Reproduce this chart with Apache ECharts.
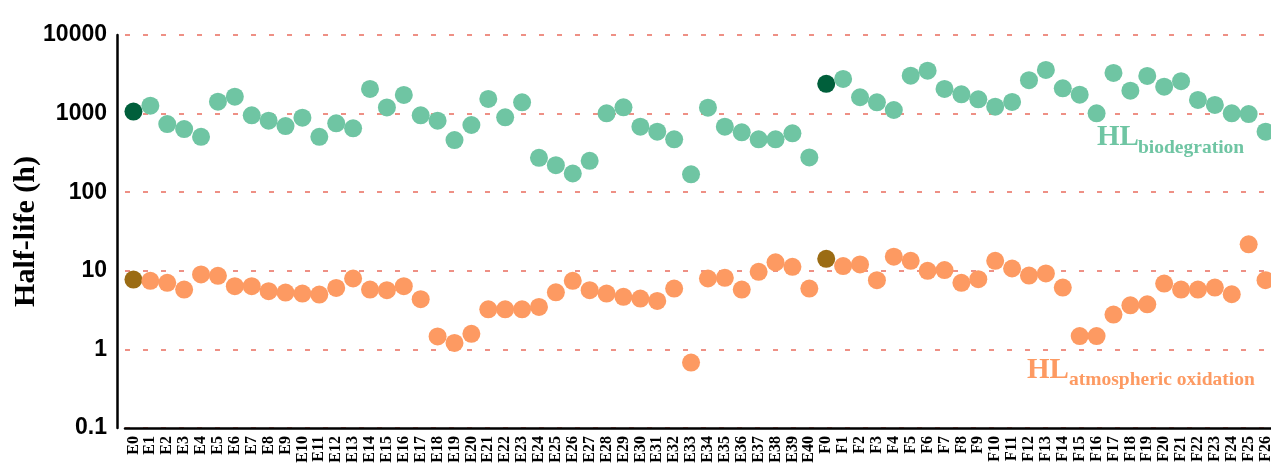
<!DOCTYPE html>
<html>
<head>
<meta charset="utf-8">
<script src="https://cdn.jsdelivr.net/npm/echarts@6/dist/echarts.min.js"></script>
<style>
  html, body { margin: 0; padding: 0; background: #fff; }
  #main { width: 1271px; height: 470px; }
</style>
</head>
<body>
<div id="main"></div>
<script>
// categories E0..E40, F0..F26
var CATS_E = ['E0','E1','E2','E3','E4','E5','E6','E7','E8','E9','E10','E11','E12','E13','E14','E15','E16','E17','E18','E19','E20',
  'E21','E22','E23','E24','E25','E26','E27','E28','E29','E30','E31','E32','E33','E34','E35','E36','E37','E38','E39','E40'];
var CATS_F = ['F0','F1','F2','F3','F4','F5','F6','F7','F8','F9','F10','F11','F12','F13','F14','F15','F16','F17','F18','F19','F20',
  'F21','F22','F23','F24','F25','F26'];
var CATEGORIES = CATS_E.concat(CATS_F);

// parent compounds (drawn darker)
var PARENTS = ['E0', 'F0'];

// half-life biodegradation (h)
var HL_BIO = [1060,1260,736,635,507,1420,1640,950,812,695,887,507,752,650,2060,1200,1730,950,812,460,716,
  1535,897,1393,274,221,173,251,1009,1203,681,588,470,169,1190,681,578,470,470,561,277,
  2390,2760,1614,1393,1111,3040,3520,2060,1762,1520,1224,1406,2660,3595,2100,1743,1009,3296,1960,3019,
  2203,2584,1490,1288,1009,988,588];

// half-life atmospheric oxidation (h)
var HL_ATM = [7.74,7.45,7.03,5.77,8.98,8.63,6.37,6.37,5.5,5.28,5.13,4.98,6.06,7.98,5.77,5.66,6.37,4.35,1.46,1.21,1.58,
  3.24,3.24,3.24,3.47,5.33,7.45,5.66,5.13,4.66,4.43,4.13,5.94,0.68,7.98,8.14,5.77,9.7,12.8,11.25,5.94,
  14.2,11.5,12.05,7.6,15.1,13.4,10,10.2,7.03,7.82,13.4,10.7,8.7,9.25,6.12,1.48,1.48,2.77,3.64,3.75,
  6.89,5.77,5.77,6.12,5.03,21.7,7.6];

var Y_TICKS = [0.1, 1, 10, 100, 1000, 10000];

function buildData(values, normal, dark) {
    var out = [];
    for (var i = 0; i < values.length; i++) {
        var isParent = PARENTS.indexOf(CATEGORIES[i]) >= 0;
        out.push({
            value: values[i],
            itemStyle: { color: isParent ? dark : normal, opacity: 1 }
        });
    }
    return out;
}

var chart = echarts.init(document.getElementById('main'), null, { renderer: 'canvas' });

var option = {
    animation: false,
    grid: { left: 125, top: 35, width: 1149, height: 393, outerBoundsMode: 'none', containLabel: false },
    xAxis: {
        type: 'category',
        data: CATEGORIES,
        boundaryGap: true,
        axisLine: { lineStyle: { color: '#000', width: 2.5 } },
        axisTick: { show: false },
        axisLabel: {
            interval: 0,
            rotate: 90,
            margin: 8,
            color: '#000',
            fontFamily: 'Liberation Serif',
            fontWeight: 'bold',
            fontSize: 16
        }
    },
    yAxis: {
        type: 'log',
        logBase: 10,
        min: Y_TICKS[0],
        max: Y_TICKS[Y_TICKS.length - 1],
        offset: 8,
        name: 'Half-life (h)',
        nameLocation: 'middle',
        nameGap: 76,
        nameMoveOverlap: false,
        nameTextStyle: {
            color: '#000',
            fontFamily: 'Liberation Serif',
            fontWeight: 'bold',
            fontSize: 30
        },
        axisLine: { show: true, lineStyle: { color: '#000', width: 2.5 } },
        axisTick: { show: false },
        axisLabel: {
            margin: 10,
            color: '#000',
            fontFamily: 'Liberation Sans',
            fontWeight: 'bold',
            fontSize: 23,
            formatter: function (v) { return String(+v.toPrecision(6)); }
        },
        splitLine: {
            show: true,
            lineStyle: { color: '#ee9085', width: 2, type: [5, 13] }
        }
    },
    series: [
        {
            name: 'HL biodegration',
            type: 'scatter',
            symbolSize: 18,
            data: buildData(HL_BIO, '#6fc5a3', '#005f3b'),
            z: 3
        },
        {
            name: 'HL atmospheric oxidation',
            type: 'scatter',
            symbolSize: 18,
            data: buildData(HL_ATM, '#fd9a62', '#9b6c14'),
            z: 3
        }
    ],
    graphic: [
        // series labels with subscripts
        {
            type: 'text', left: 1097, top: 123,
            style: { text: 'HL', fill: '#6fc5a3', font: 'bold 29px "Liberation Serif"' }
        },
        {
            type: 'text', left: 1138, top: 138,
            style: { text: 'biodegration', fill: '#6fc5a3', font: 'bold 19.5px "Liberation Serif"' }
        },
        {
            type: 'text', left: 1027, top: 356,
            style: { text: 'HL', fill: '#fd9a62', font: 'bold 29px "Liberation Serif"' }
        },
        {
            type: 'text', left: 1069, top: 370,
            style: { text: 'atmospheric oxidation', fill: '#fd9a62', font: 'bold 19.5px "Liberation Serif"' }
        }
    ]
};

chart.setOption(option);
</script>
</body>
</html>
